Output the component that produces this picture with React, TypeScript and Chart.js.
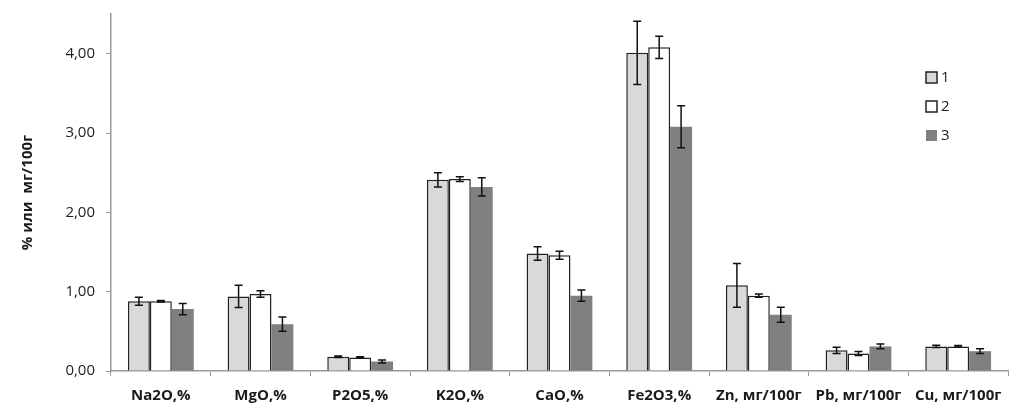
import React, { useEffect, useRef } from "react";
import { Chart, registerables } from "chart.js";

Chart.register(...registerables);

const categories = ["Na2O,%", "MgO,%", "P2O5,%", "K2O,%", "CaO,%", "Fe2O3,%", "Zn, мг/100г", "Pb, мг/100г", "Cu, мг/100г"];
const seriesLabels = ["1", "2", "3"];
const series1 = [0.88, 0.94, 0.18, 2.41, 1.48, 4.01, 1.08, 0.26, 0.31];
const err1 = [0.05, 0.14, 0.01, 0.09, 0.085, 0.4, 0.275, 0.04, 0.015];
const series2 = [0.88, 0.97, 0.17, 2.42, 1.46, 4.08, 0.95, 0.22, 0.31];
const err2 = [0.01, 0.04, 0.01, 0.03, 0.05, 0.14, 0.02, 0.025, 0.01];
const series3 = [0.78, 0.59, 0.12, 2.32, 0.95, 3.08, 0.71, 0.31, 0.25];
const err3 = [0.07, 0.09, 0.02, 0.115, 0.07, 0.265, 0.095, 0.03, 0.03];
const yTicks = [0, 1, 2, 3, 4];

const FONT = "'Open Sans', 'Liberation Sans', sans-serif";
const fills = ["#d9d9d9", "#ffffff", "#808080"];
const borders = ["#222222", "#222222", "#808080"];
const borderWidths = [1.5, 1.5, 0];
const errors = [err1, err2, err3];

const errorBarPlugin = {
  id: "errorBars",
  afterDatasetsDraw(chart: any) {
    const ctx = chart.ctx;
    const y = chart.scales.y;
    ctx.save();
    ctx.strokeStyle = "#111";
    ctx.lineWidth = 1.5;
    chart.data.datasets.forEach((ds: any, i: number) => {
      const meta = chart.getDatasetMeta(i);
      meta.data.forEach((bar: any, j: number) => {
        const v = ds.data[j];
        const e = errors[i][j];
        const x = bar.x;
        const yTop = y.getPixelForValue(v + e);
        const yBot = y.getPixelForValue(v - e);
        ctx.beginPath();
        ctx.moveTo(x, yTop);
        ctx.lineTo(x, yBot);
        ctx.moveTo(x - 4, yTop);
        ctx.lineTo(x + 4, yTop);
        ctx.moveTo(x - 4, yBot);
        ctx.lineTo(x + 4, yBot);
        ctx.stroke();
      });
    });
    ctx.restore();
  },
};

const legendPlugin = {
  id: "customLegend",
  afterDraw(chart: any) {
    const ctx = chart.ctx;
    ctx.save();
    ctx.font = `15px ${FONT}`;
    ctx.textBaseline = "middle";
    ctx.textAlign = "left";
    seriesLabels.forEach((lab, i) => {
      const bx = 926;
      const by = 72 + i * 29;
      ctx.fillStyle = fills[i];
      ctx.fillRect(bx, by, 11, 11);
      if (borderWidths[i] > 0) {
        ctx.strokeStyle = "#222";
        ctx.lineWidth = 1.5;
        ctx.strokeRect(bx, by, 11, 11);
      }
      ctx.fillStyle = "#222";
      ctx.fillText(lab, bx + 15, by + 6);
    });
    ctx.restore();
  },
};

export default function App() {
  const ref = useRef<HTMLCanvasElement>(null);
  useEffect(() => {
    const chart = new Chart(ref.current!, {
      type: "bar",
      data: {
        labels: categories,
        datasets: [series1, series2, series3].map((d, i) => ({
          label: seriesLabels[i],
          data: d,
          backgroundColor: fills[i],
          borderColor: borders[i],
          borderWidth: borderWidths[i],
          categoryPercentage: 0.66,
          barPercentage: 1,
        })),
      },
      options: {
        animation: false,
        responsive: false,
        layout: { padding: { top: 14, right: 16, left: 0, bottom: 0 } },
        plugins: { legend: { display: false }, tooltip: { enabled: false } },
        scales: {
          x: {
            afterFit(s: any) { s.height = 43; s.paddingLeft = 0; s.paddingRight = 0; },
            grid: { offset: true, drawOnChartArea: false, drawTicks: true, tickLength: 5, color: "#999" },
            border: { color: "#999", width: 1.5 },
            ticks: { font: { family: FONT, size: 15, weight: "bold" }, color: "#1a1a1a", padding: 11, maxRotation: 0, autoSkip: false },
          },
          y: {
            min: 0,
            max: 4.5,
            afterFit(s: any) { s.width = 111; s.paddingTop = 0; s.paddingBottom = 0; },
            afterBuildTicks(s: any) { s.ticks = yTicks.map((v) => ({ value: v })); },
            grid: { drawOnChartArea: false, drawTicks: true, tickLength: 5, color: "#999" },
            border: { color: "#999", width: 1.5 },
            ticks: {
              font: { family: FONT, size: 15 },
              color: "#222",
              padding: 11,
              callback: (v: any) => Number(v).toFixed(2).replace(".", ","),
            },
            title: {
              display: true,
              text: "% или  мг/100г",
              font: { family: FONT, size: 15, weight: "bold" },
              color: "#1a1a1a",
              padding: { top: 19, bottom: 0 },
            },
          },
        },
      },
      plugins: [errorBarPlugin, legendPlugin],
    } as any);
    return () => chart.destroy();
  }, []);
  return (
    <div style={{ position: "fixed", left: 0, top: 0, width: 1024, height: 414, background: "#fff" }}>
      <canvas ref={ref} width={1024} height={414} />
    </div>
  );
}
